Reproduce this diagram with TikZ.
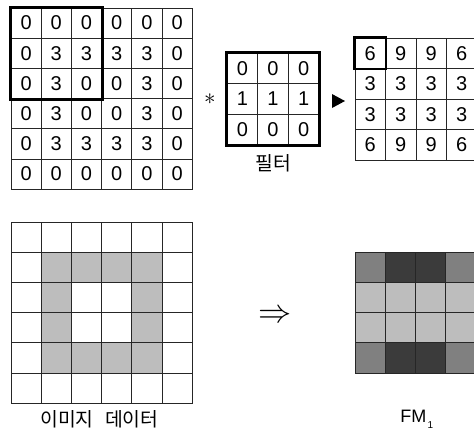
\documentclass[tikz,border=0pt]{standalone}
\usepackage{fontspec}
\setmainfont{Liberation Sans}
\newfontfamily\kofont{Noto Sans CJK KR}
\usepackage{tikz}
\usetikzlibrary{positioning}

\tikzset{
  cell/.style={draw=black!85, line width=0.7pt, minimum size=#1, inner sep=0pt,
    font=\fontsize{15}{16}\selectfont},
  cell/.default=22.65pt,
  frame/.style={line width=2.2pt},
  caption/.style={inner sep=0pt, font=\kofont\fontsize{14.5}{16}\selectfont}
}

\begin{document}
\begin{tikzpicture}[x=0.75pt, y=-0.75pt]
  \useasboundingbox (0,0) rectangle (474,430);

  % input 6x6
  \foreach \row [count=\r from 0] in {{0,0,0,0,0,0},{0,3,3,3,3,0},{0,3,0,0,3,0},
                                      {0,3,0,0,3,0},{0,3,3,3,3,0},{0,0,0,0,0,0}}
    \foreach \v [count=\c from 0] in \row
      \node[cell] (in-\r-\c) at ({11+30.2*(\c+0.5)},{8+30.2*(\r+0.5)}) {\v};
  \draw[frame] (in-0-0.north west) rectangle (in-2-2.south east);

  \node[inner sep=0pt] (star) at (210,99) {\fontsize{16}{17}\selectfont$\ast$};

  % filter 3x3
  \foreach \row [count=\r from 0] in {{0,0,0},{1,1,1},{0,0,0}}
    \foreach \v [count=\c from 0] in \row
      \node[cell=23pt] (filt-\r-\c) at ({227+30.7*(\c+0.5)},{53+30.7*(\r+0.5)}) {\v};
  \draw[frame] (filt-0-0.north west) rectangle (filt-2-2.south east);
  \node[caption, below=6.5pt of filt-2-1] (filtname) {필터};

  \fill (332,94) -- (345,101) -- (332,108) -- cycle;

  % feature map 4x4
  \foreach \row [count=\r from 0] in {{6,9,9,6},{3,3,3,3},{3,3,3,3},{6,9,9,6}}
    \foreach \v [count=\c from 0] in \row
      \node[cell=22.9pt] (out-\r-\c) at ({355+30.5*(\c+0.5)},{38+30.5*(\r+0.5)}) {\v};
  \draw[frame] (out-0-0.north west) rectangle (out-0-0.south east);

  % image data
  \foreach \row [count=\r from 0] in {{0,0,0,0,0,0},{0,1,1,1,1,0},{0,1,0,0,1,0},
                                      {0,1,0,0,1,0},{0,1,1,1,1,0},{0,0,0,0,0,0}}
    \foreach \v [count=\c from 0] in \row {
      \ifnum\v=1 \def\shade{black!26}\else \def\shade{white}\fi
      \node[cell, fill=\shade] (img-\r-\c) at ({11+30.2*(\c+0.5)},{222+30.2*(\r+0.5)}) {};
    }
  \node[caption, below=5pt of img-5-2.south east, xshift=-2pt] (imgname) {이미지\hspace{0.6em}데이터};

  \node[inner sep=0pt] (implies) at (275,316) {\fontsize{25}{27}\selectfont$\Rightarrow$};

  % FM_1
  \foreach \row [count=\r from 0] in {{50,77,77,50},{26,26,26,26},{26,26,26,26},{50,77,77,50}}
    \foreach \v [count=\c from 0] in \row
      \node[cell=22.7pt, fill=black!\v] (fm-\r-\c) at ({355+30.3*(\c+0.5)},{252+30.3*(\r+0.5)}) {};
  \node[inner sep=0pt, anchor=base west, font=\fontsize{13.5}{15}\selectfont] (fmname) at (400,422)
    {FM\hspace{1pt}\raisebox{-4.5pt}{\fontsize{7.5}{8}\selectfont 1}};
\end{tikzpicture}
\end{document}
